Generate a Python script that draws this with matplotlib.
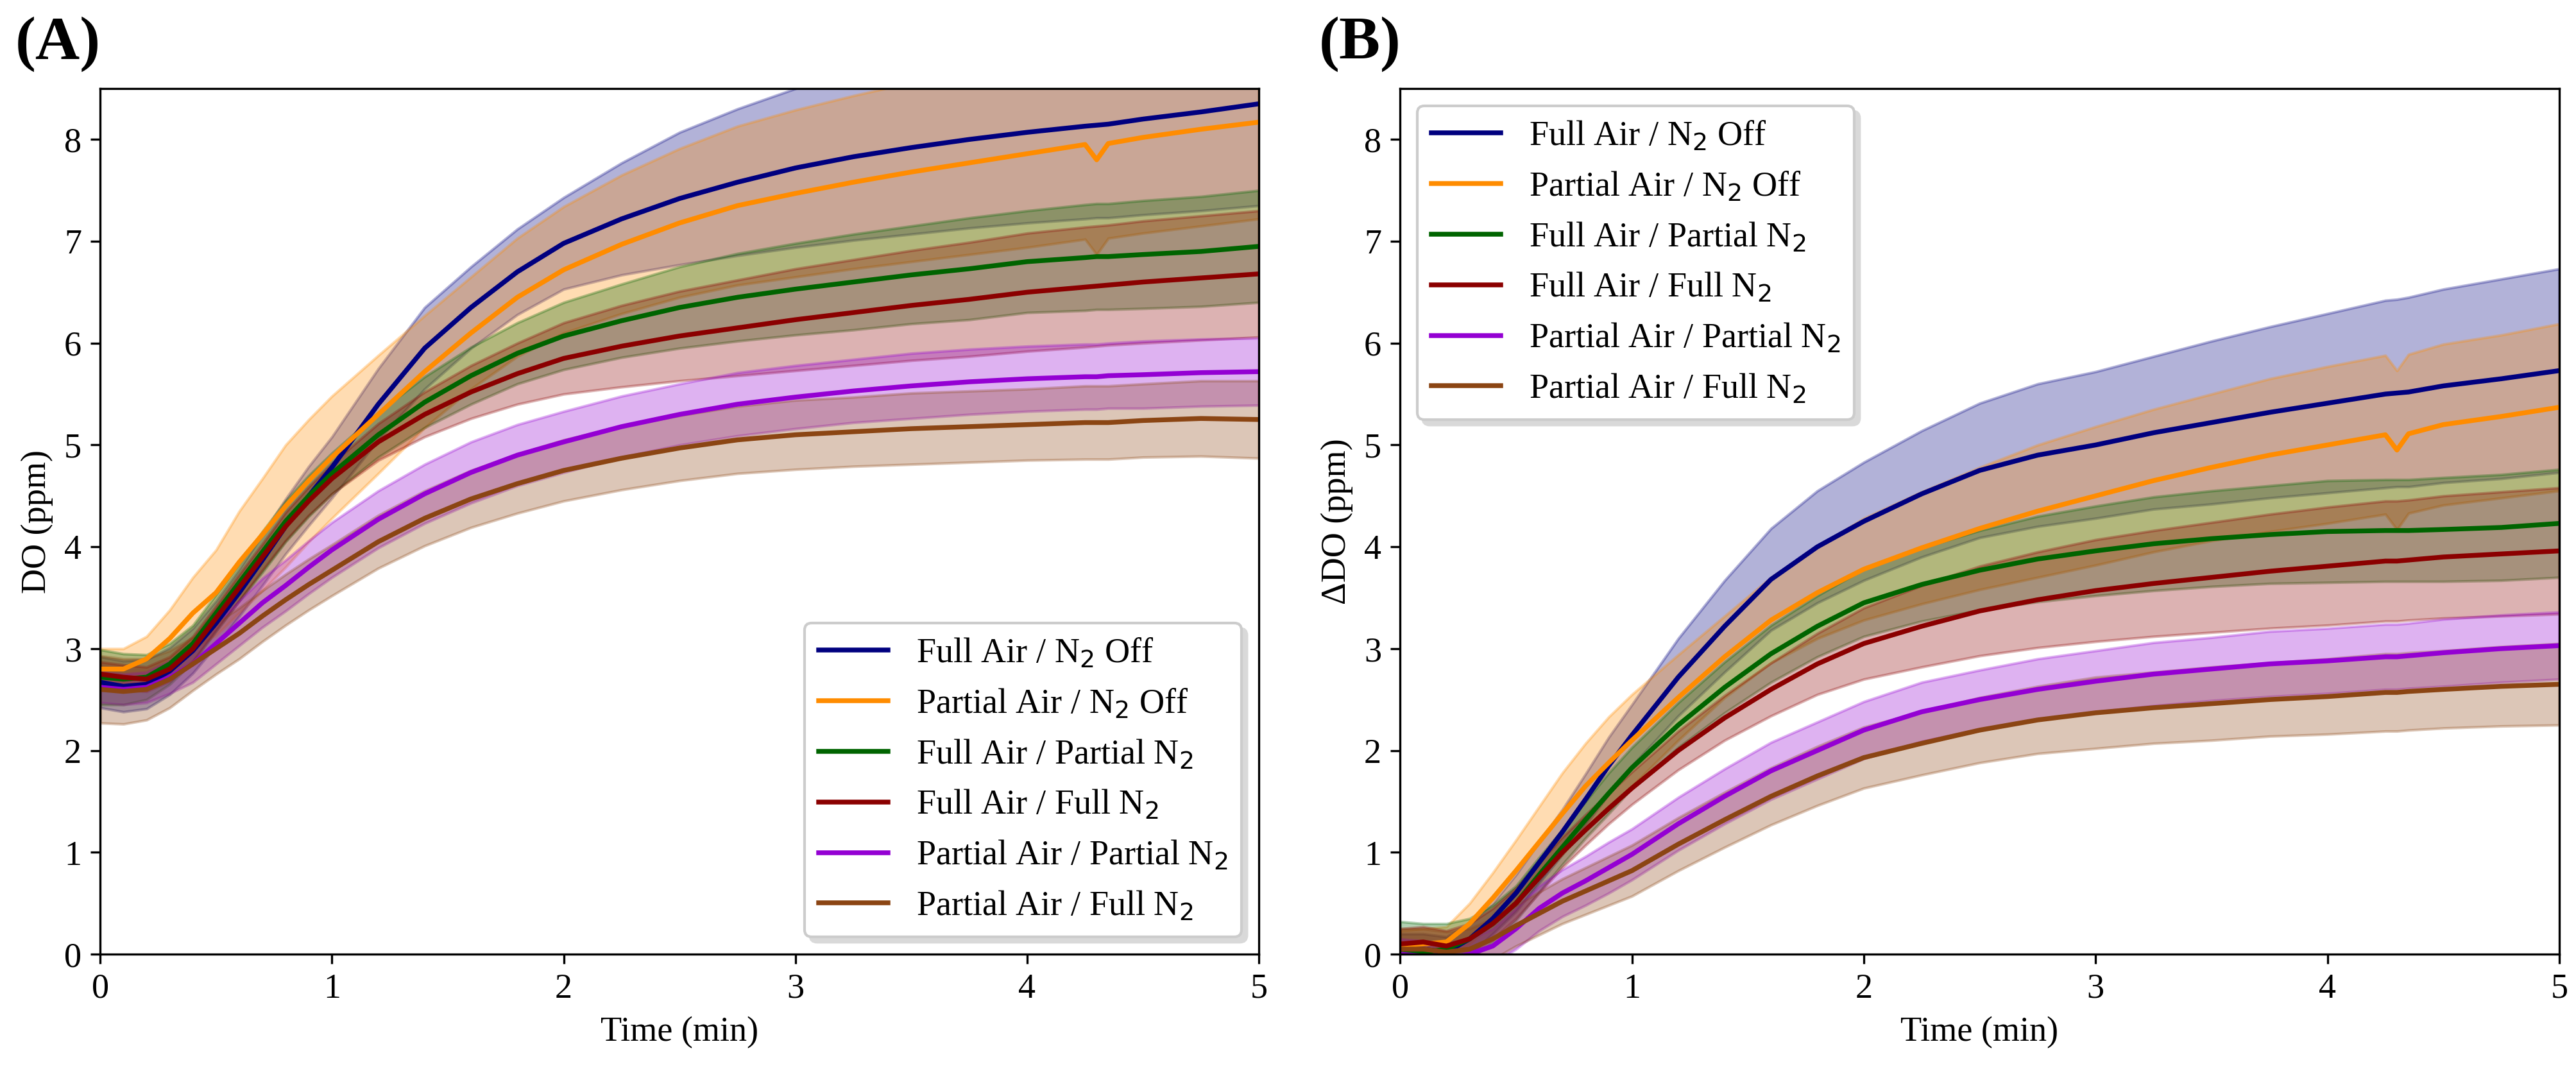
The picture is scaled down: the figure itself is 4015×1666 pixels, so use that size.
import numpy as np
import matplotlib
matplotlib.use("Agg")
import matplotlib.pyplot as plt

plt.rcParams['font.family'] = ['Liberation Serif', 'DejaVu Serif']
plt.rcParams['font.size'] = 13

# time axis (min)
t = [0, 0.1, 0.2, 0.3, 0.4, 0.5, 0.6, 0.7, 0.8, 0.9, 1.0, 1.2, 1.4, 1.6, 1.8,
     2.0, 2.25, 2.5, 2.75, 3.0, 3.25, 3.5, 3.75, 4.0, 4.25, 4.3, 4.35, 4.5, 4.75, 5.0]

labels = ["Full Air / N$_2$ Off", "Partial Air / N$_2$ Off", "Full Air / Partial N$_2$",
          "Full Air / Full N$_2$", "Partial Air / Partial N$_2$", "Partial Air / Full N$_2$"]
colors = ["#00007f", "darkorange", "darkgreen", "darkred", "darkviolet", "saddlebrown"]

# (A) DO, mean and std
a_full_off = [2.67, 2.63, 2.65, 2.78, 2.98, 3.25, 3.55, 3.87, 4.2, 4.5, 4.78, 5.4, 5.95, 6.35, 6.7,
              6.98, 7.22, 7.42, 7.58, 7.72, 7.83, 7.92, 8.0, 8.07, 8.13, 8.14, 8.15, 8.2, 8.27, 8.35]
a_full_off_sd = [0.25, 0.25, 0.24, 0.23, 0.22, 0.22, 0.23, 0.25, 0.27, 0.29, 0.3, 0.35, 0.4, 0.4, 0.42,
                 0.45, 0.55, 0.65, 0.72, 0.78, 0.82, 0.85, 0.87, 0.89, 0.91, 0.91, 0.92, 0.94, 0.97, 1.0]
a_part_off = [2.8, 2.8, 2.9, 3.1, 3.35, 3.55, 3.85, 4.12, 4.4, 4.65, 4.88, 5.3, 5.72, 6.1, 6.45,
              6.72, 6.97, 7.18, 7.35, 7.47, 7.58, 7.68, 7.77, 7.86, 7.95, 7.8, 7.96, 8.02, 8.1, 8.17]
a_part_off_sd = [0.2, 0.2, 0.22, 0.28, 0.35, 0.42, 0.5, 0.55, 0.6, 0.6, 0.6, 0.58, 0.55, 0.55, 0.58,
                 0.62, 0.68, 0.73, 0.78, 0.82, 0.85, 0.88, 0.9, 0.92, 0.93, 0.93, 0.93, 0.94, 0.95, 0.95]
a_full_part = [2.72, 2.7, 2.72, 2.85, 3.05, 3.35, 3.65, 3.95, 4.25, 4.5, 4.72, 5.1, 5.42, 5.68, 5.9,
               6.07, 6.22, 6.35, 6.45, 6.53, 6.6, 6.67, 6.73, 6.8, 6.84, 6.85, 6.85, 6.87, 6.9, 6.95]
a_full_part_sd = [0.27, 0.25, 0.22, 0.2, 0.18, 0.18, 0.18, 0.2, 0.2, 0.2, 0.2, 0.22, 0.25, 0.28, 0.3,
                  0.33, 0.36, 0.4, 0.43, 0.45, 0.47, 0.48, 0.5, 0.5, 0.52, 0.52, 0.52, 0.53, 0.54, 0.55]
a_full_full = [2.75, 2.72, 2.7, 2.8, 3.0, 3.3, 3.6, 3.9, 4.2, 4.45, 4.67, 5.03, 5.3, 5.52, 5.7,
               5.85, 5.97, 6.07, 6.15, 6.23, 6.3, 6.37, 6.43, 6.5, 6.55, 6.56, 6.57, 6.6, 6.64, 6.68]
a_full_full_sd = [0.12, 0.12, 0.12, 0.12, 0.12, 0.12, 0.13, 0.13, 0.14, 0.14, 0.15, 0.18, 0.22, 0.26, 0.3,
                  0.35, 0.4, 0.44, 0.47, 0.5, 0.52, 0.54, 0.56, 0.58, 0.59, 0.59, 0.59, 0.6, 0.61, 0.62]
a_part_part = [2.62, 2.6, 2.62, 2.72, 2.85, 3.05, 3.25, 3.45, 3.62, 3.8, 3.97, 4.27, 4.52, 4.73, 4.9,
               5.03, 5.18, 5.3, 5.4, 5.47, 5.53, 5.58, 5.62, 5.65, 5.67, 5.67, 5.68, 5.69, 5.71, 5.72]
a_part_part_sd = [0.15, 0.15, 0.15, 0.16, 0.18, 0.2, 0.22, 0.24, 0.25, 0.26, 0.27, 0.28, 0.29, 0.3, 0.3,
                  0.3, 0.3, 0.3, 0.31, 0.31, 0.31, 0.32, 0.32, 0.32, 0.32, 0.32, 0.32, 0.33, 0.33, 0.33]
a_part_full = [2.6, 2.58, 2.6, 2.7, 2.85, 3.0, 3.15, 3.32, 3.48, 3.63, 3.77, 4.05, 4.28, 4.47, 4.62,
               4.75, 4.87, 4.97, 5.05, 5.1, 5.13, 5.16, 5.18, 5.2, 5.22, 5.22, 5.22, 5.24, 5.26, 5.25]
a_part_full_sd = [0.33, 0.32, 0.3, 0.28, 0.26, 0.25, 0.25, 0.25, 0.25, 0.25, 0.25, 0.26, 0.27, 0.28, 0.29,
                  0.3, 0.31, 0.32, 0.33, 0.34, 0.34, 0.35, 0.35, 0.35, 0.36, 0.36, 0.36, 0.36, 0.37, 0.38]

# (B) delta DO, mean and std
b_full_off = [0.05, 0.05, 0.02, 0.15, 0.35, 0.6, 0.9, 1.2, 1.52, 1.85, 2.15, 2.72, 3.22, 3.68, 4.0,
              4.25, 4.52, 4.75, 4.9, 5.0, 5.12, 5.22, 5.32, 5.41, 5.5, 5.51, 5.52, 5.58, 5.65, 5.73]
b_full_off_sd = [0.15, 0.15, 0.15, 0.15, 0.15, 0.18, 0.2, 0.22, 0.25, 0.28, 0.3, 0.38, 0.45, 0.5, 0.55,
                 0.58, 0.62, 0.66, 0.7, 0.72, 0.75, 0.8, 0.84, 0.88, 0.92, 0.92, 0.93, 0.95, 0.98, 1.0]
b_part_off = [0.08, 0.1, 0.12, 0.3, 0.55, 0.82, 1.1, 1.38, 1.65, 1.88, 2.1, 2.52, 2.92, 3.28, 3.55,
              3.78, 3.99, 4.18, 4.35, 4.5, 4.65, 4.78, 4.9, 5.0, 5.1, 4.95, 5.11, 5.2, 5.28, 5.37]
b_part_off_sd = [0.15, 0.15, 0.15, 0.2, 0.25, 0.3, 0.35, 0.4, 0.42, 0.45, 0.45, 0.42, 0.4, 0.42, 0.45,
                 0.5, 0.55, 0.6, 0.65, 0.68, 0.7, 0.72, 0.75, 0.77, 0.78, 0.78, 0.78, 0.79, 0.8, 0.82]
b_full_part = [0.02, 0.02, 0.05, 0.15, 0.3, 0.5, 0.78, 1.05, 1.32, 1.58, 1.83, 2.25, 2.62, 2.95, 3.22,
               3.45, 3.63, 3.77, 3.88, 3.96, 4.03, 4.08, 4.12, 4.15, 4.16, 4.16, 4.16, 4.17, 4.19, 4.23]
b_full_part_sd = [0.3, 0.28, 0.25, 0.2, 0.18, 0.17, 0.17, 0.17, 0.18, 0.2, 0.2, 0.22, 0.25, 0.28, 0.3,
                  0.33, 0.36, 0.39, 0.42, 0.44, 0.46, 0.47, 0.48, 0.5, 0.5, 0.5, 0.5, 0.51, 0.52, 0.53]
b_full_full = [0.1, 0.12, 0.08, 0.15, 0.3, 0.5, 0.75, 1.0, 1.22, 1.43, 1.63, 2.0, 2.32, 2.6, 2.85,
               3.05, 3.22, 3.37, 3.48, 3.57, 3.64, 3.7, 3.76, 3.81, 3.86, 3.86, 3.87, 3.9, 3.93, 3.96]
b_full_full_sd = [0.15, 0.15, 0.15, 0.15, 0.15, 0.15, 0.15, 0.15, 0.15, 0.15, 0.16, 0.19, 0.22, 0.26, 0.3,
                  0.35, 0.4, 0.44, 0.47, 0.5, 0.52, 0.54, 0.56, 0.58, 0.59, 0.59, 0.59, 0.6, 0.61, 0.62]
b_part_part = [0.0, -0.02, -0.05, 0.0, 0.08, 0.25, 0.45, 0.6, 0.72, 0.85, 0.98, 1.28, 1.55, 1.8, 2.0,
               2.2, 2.38, 2.5, 2.6, 2.68, 2.75, 2.8, 2.85, 2.88, 2.92, 2.92, 2.93, 2.96, 3.0, 3.03]
b_part_part_sd = [0.15, 0.15, 0.15, 0.15, 0.17, 0.2, 0.22, 0.23, 0.24, 0.25, 0.25, 0.26, 0.27, 0.28, 0.28,
                  0.28, 0.29, 0.29, 0.3, 0.3, 0.31, 0.31, 0.32, 0.32, 0.32, 0.32, 0.32, 0.33, 0.33, 0.33]
b_part_full = [0.05, 0.05, 0.02, 0.05, 0.15, 0.28, 0.4, 0.52, 0.62, 0.72, 0.82, 1.08, 1.32, 1.55, 1.75,
               1.93, 2.07, 2.2, 2.3, 2.37, 2.42, 2.46, 2.5, 2.53, 2.57, 2.57, 2.58, 2.6, 2.63, 2.65]
b_part_full_sd = [0.2, 0.2, 0.2, 0.2, 0.2, 0.2, 0.21, 0.22, 0.23, 0.24, 0.25, 0.26, 0.27, 0.28, 0.29,
                  0.3, 0.31, 0.32, 0.33, 0.35, 0.35, 0.36, 0.36, 0.37, 0.38, 0.38, 0.38, 0.38, 0.39, 0.4]

panel_a = [(a_full_off, a_full_off_sd), (a_part_off, a_part_off_sd), (a_full_part, a_full_part_sd),
           (a_full_full, a_full_full_sd), (a_part_part, a_part_part_sd), (a_part_full, a_part_full_sd)]
panel_b = [(b_full_off, b_full_off_sd), (b_part_off, b_part_off_sd), (b_full_part, b_full_part_sd),
           (b_full_full, b_full_full_sd), (b_part_part, b_part_part_sd), (b_part_full, b_part_full_sd)]

fig = plt.figure(figsize=(4015 / 300, 1666 / 300), dpi=300)
ax1 = fig.add_axes([0.0389, 0.1074, 0.4498, 0.8098])
ax2 = fig.add_axes([0.5435, 0.1074, 0.4500, 0.8098])


def draw(ax, series, ylabel, loc):
    for (m, s), c, lab in zip(series, colors, labels):
        m = np.array(m)
        s = np.array(s)
        ax.fill_between(t, m - s, m + s, color=c, alpha=0.3)
        ax.plot(t, m, color=c, lw=1.8, label=lab)
    ax.set_xlim(0, 5)
    ax.set_ylim(0, 8.5)
    ax.set_xlabel("Time (min)")
    ax.set_ylabel(ylabel)
    ax.legend(loc=loc, fontsize=13, shadow={'color': '0.85', 'alpha': 1.0})


draw(ax1, panel_a, "DO (ppm)", "lower right")
draw(ax2, panel_b, "ΔDO (ppm)", "upper left")

fig.text(0.006, 0.985, "(A)", fontsize=23, fontweight="bold", va="top", ha="left")
fig.text(0.512, 0.985, "(B)", fontsize=23, fontweight="bold", va="top", ha="left")

fig.savefig("out.png", dpi=300)
